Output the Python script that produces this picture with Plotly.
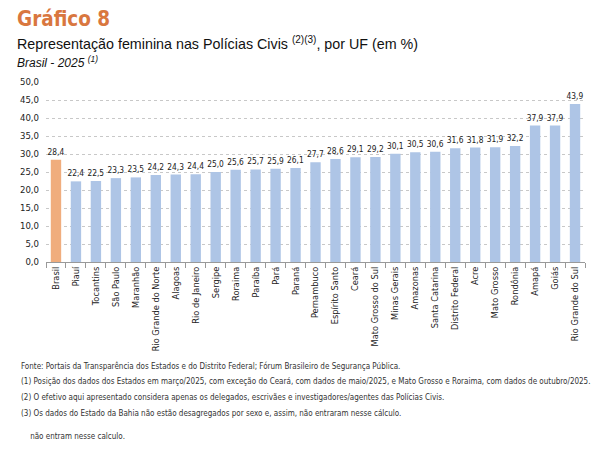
import plotly.graph_objects as go

# Dados
ufs = ["Brasil", "Piauí", "Tocantins", "São Paulo", "Maranhão", "Rio Grande do Norte",
       "Alagoas", "Rio de Janeiro", "Sergipe", "Roraima", "Paraíba", "Pará", "Paraná",
       "Pernambuco", "Espírito Santo", "Ceará", "Mato Grosso do Sul", "Minas Gerais",
       "Amazonas", "Santa Catarina", "Distrito Federal", "Acre", "Mato Grosso",
       "Rondônia", "Amapá", "Goiás", "Rio Grande do Sul"]
percentual = [28.4, 22.4, 22.5, 23.3, 23.5, 24.2, 24.3, 24.4, 25.0, 25.6, 25.7, 25.9, 26.1,
              27.7, 28.6, 29.1, 29.2, 30.1, 30.5, 30.6, 31.6, 31.8, 31.9, 32.2, 37.9, 37.9, 43.9]

cores = ["#F0AD7D" if uf == "Brasil" else "#AEC5E6" for uf in ufs]

narrow = "DejaVu Sans Condensed, sans-serif"

fig = go.Figure(go.Bar(
    x=ufs, y=percentual,
    marker=dict(color=cores, line=dict(width=0)),
    texttemplate="%{y:.1f}", textposition="outside", constraintext="none",
    textfont=dict(family=narrow, size=8.3, color="#222222"),
    cliponaxis=False,
))

# a página tem margem de 8px no body, então a figura é desenhada 8px menor e deslocada
OFF = 8
W, H = 599 - OFF, 452 - OFF
L, R, T, B = 43 - OFF, 14, 82 - OFF, 190
pw, ph = W - L - R, H - T - B


def px(x, y):
    # converte pixel da referência em coordenada paper
    return (x - OFF - L) / pw, (H - B - (y - OFF)) / ph


anns = []
x0, y0 = px(12, 19)
anns.append(dict(text="<b>Gráfico 8</b>", x=x0, y=y0, font=dict(family=narrow, size=20.5, color="#D9773F")))
x0, y0 = px(12, 43)
anns.append(dict(text="Representação feminina nas Polícias Civis <sup>(2)(3)</sup>, por UF (em %)", x=x0, y=y0,
                 font=dict(family="Liberation Sans, Arial, sans-serif", size=14.3, color="#111111")))
x0, y0 = px(12, 62)
anns.append(dict(text="<i>Brasil - 2025 <sup>(1)</sup></i>", x=x0, y=y0,
                 font=dict(family="Liberation Sans, Arial, sans-serif", size=12, color="#111111")))

notas = [
    (366, "Fonte: Portais da Transparência dos Estados e do Distrito Federal; Fórum Brasileiro de Segurança Pública."),
    (381, "(1) Posição dos dados dos Estados em março/2025, com exceção do Ceará, com dados de maio/2025, e Mato Grosso e Roraima, com dados de outubro/2025."),
    (397, "(2) O efetivo aqui apresentado considera apenas os delegados, escrivães e investigadores/agentes das Polícias Civis."),
    (413, "(3) Os dados do Estado da Bahia não estão desagregados por sexo e, assim, não entraram nesse cálculo."),
    (436, "    não entram nesse calculo."),
]
for yy, txt in notas:
    x0, y0 = px(16, yy)
    anns.append(dict(text=txt, x=x0, y=y0, font=dict(family=narrow, size=8, color="#333333")))

for a in anns:
    a.update(xref="paper", yref="paper", xanchor="left", yanchor="middle", showarrow=False)

fig.update_layout(
    width=W, height=H,
    margin=dict(l=L, r=R, t=T, b=B),
    paper_bgcolor="white", plot_bgcolor="white",
    separators=",.",
    bargap=0.48,
    showlegend=False,
    annotations=anns,
    font=dict(family=narrow, size=10, color="#222222"),
)
fig.update_yaxes(
    range=[0, 50], dtick=5, tickformat=".1f",
    showgrid=True, gridcolor="#C8C8C8", griddash="dot", gridwidth=1,
    zeroline=False, showline=False, ticks="", ticklabelstandoff=6,
    tickfont=dict(family=narrow, size=9.5, color="#222222"),
)
fig.update_xaxes(
    tickangle=-90, tickson="boundaries", ticks="outside", ticklen=5, tickcolor="#999999",
    showline=True, linecolor="#999999", linewidth=1,
    tickfont=dict(family=narrow, size=9.2, color="#222222"),
)

fig.write_html("out.html")
